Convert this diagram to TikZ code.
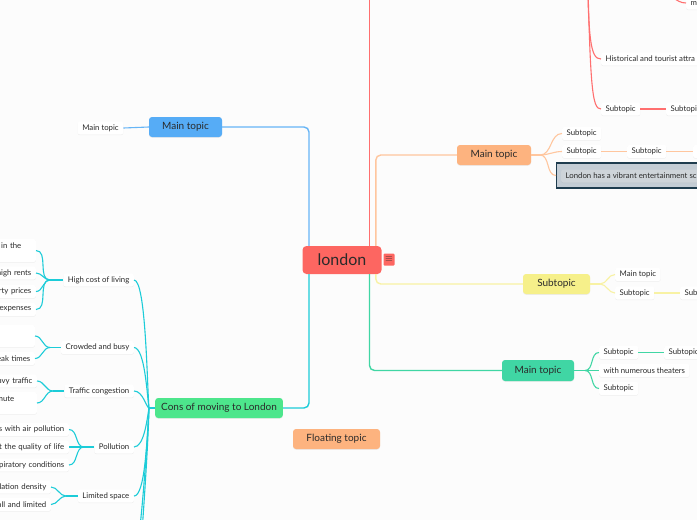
\documentclass[tikz,border=0pt]{standalone}
\usepackage{fontspec}
\setmainfont{Lato}
\usetikzlibrary{positioning, shadows}
\definecolor{bgcol}{HTML}{FCFCFC}
\definecolor{rootred}{HTML}{FD6661}
\definecolor{redline}{HTML}{FF6F6F}
\definecolor{orangefill}{HTML}{FDB37F}
\definecolor{orangeline}{HTML}{FFC69E}
\definecolor{yellowfill}{HTML}{F6F08A}
\definecolor{yellowline}{HTML}{F8F2A4}
\definecolor{greenfill}{HTML}{40D6A4}
\definecolor{greenline}{HTML}{40D6A4}
\definecolor{bluefill}{HTML}{56ACF6}
\definecolor{blueline}{HTML}{66B5F6}
\definecolor{consfill}{HTML}{4DE68C}
\definecolor{cyanline}{HTML}{1CCCD8}
\definecolor{selfill}{HTML}{C4CDD5}
\definecolor{seldraw}{HTML}{1E3C4E}
\definecolor{selinner}{HTML}{CED4D9}
\definecolor{inkcol}{HTML}{2A2A2A}
\tikzset{
  root/.style={rectangle, rounded corners=4pt, fill=rootred,
               minimum width=79pt, minimum height=28pt, text=inkcol,
               font=\fontsize{16}{18}\selectfont},
  topic/.style={rectangle, rounded corners=3pt, minimum height=20pt,
                inner xsep=6pt, text=inkcol, font=\fontsize{10}{12}\selectfont,
                drop shadow={opacity=0.12, shadow xshift=0pt, shadow yshift=-0.8pt}},
  leaf/.style={rectangle, rounded corners=2pt, fill=white,
               minimum height=13pt, inner xsep=4.5pt, inner ysep=2pt,
               text=inkcol, font=\fontsize{7.8}{9}\selectfont,
               drop shadow={opacity=0.12, shadow xshift=0pt, shadow yshift=-0.6pt}},
  rleaf/.style={leaf, anchor=west},
  lleaf/.style={leaf, anchor=east, text width=90pt, align=right},
  link/.style={line width=1.1pt},
  trunk/.style={line width=1.4pt, rounded corners=5pt},
}
\begin{document}
\begin{tikzpicture}[x=1pt, y=-1pt]
  \useasboundingbox (0,0) rectangle (697,520);
  \fill[bgcol] (0,0) rectangle (697,520);
  \clip (0,0) rectangle (697,520);

  % centre
  \node[root] (london) at (342,260) {london};
  \node[rectangle, fill=rootred, rounded corners=1pt, minimum width=11pt,
        minimum height=12pt, inner sep=0pt, text=inkcol,
        font=\fontsize{10}{10}\selectfont] (menu) at (389,259.5) {$\equiv$};

  \coordinate (jBl) at (309,0);
  \coordinate (jRd) at (369.5,0);
  \coordinate (jOr) at (375.8,0);
  \coordinate (redtop) at (369.5,-10);

  % main topics
  \node[topic, fill=bluefill, minimum width=73pt] (mainB) at (185.5,127) {Main topic};
  \node[topic, fill=consfill, minimum width=120pt] (cons) at (219,408) {Cons of moving to London};
  \node[topic, fill=orangefill, minimum width=74pt] (mainO) at (494,155) {Main topic};
  \node[topic, fill=yellowfill, minimum width=67pt] (subY) at (556.5,284) {Subtopic};
  \node[topic, fill=greenfill, minimum width=72pt, minimum height=21pt] (mainG) at (538,370.5) {Main topic};
  \node[topic, fill=orangefill, minimum width=87pt] (floatT) at (336.5,439) {Floating topic};

  \draw[trunk, redline] (london.north -| jRd) -- (redtop);
  \draw[trunk, orangeline] (london.north -| jOr) |- (mainO.west);
  \draw[trunk, yellowline] (london.south -| jOr) |- (subY.west);
  \draw[trunk, greenline] (london.south -| jRd) |- (mainG.west);
  \draw[trunk, blueline] (london.north -| jBl) |- (mainB.east);
  \draw[trunk, cyanline] (london.south -| jBl) |- (cons.east);

  % blue branch
  \node[leaf] (leafB) at (100.5,128) {Main topic};
  \draw[link, blueline] (mainB.west) -- (leafB.east);

  % red branch (hub above the page)
  \coordinate (hubR) at (587,-60);
  \node[leaf, anchor=south west, minimum width=60pt] (topR) at (600,-1) {};
  \node[rleaf] (mR) at (686,3) {m};
  \node[rleaf] (histR) at (601,59) {Historical and tourist attra};
  \node[rleaf] (subR) at (601,109) {Subtopic};
  \node[rleaf] (subR2) at (666,109) {Subtopi};
  \draw[link, redline] (hubR) .. controls (588,40) and (590,59) .. (histR.west);
  \draw[link, redline] (hubR) .. controls (590,90) and (592,109) .. (subR.west);
  \draw[link, redline] (topR.east) to[out=0, in=180] (mR.west);
  \draw[link, redline] (subR.east) -- (subR2.west);

  % orange branch
  \node[draw=seldraw, line width=1.2pt, rectangle, anchor=west,
        minimum width=170pt, minimum height=25pt, fill=selfill] (entSel) at (556,175.5) {};
  \node[rleaf, fill=selinner, drop shadow={opacity=0}] (entO) at (561,176) {London has a vibrant entertainment sc};
  \node[rleaf] (subO1) at (562,133.5) {Subtopic};
  \node[rleaf] (subO2) at (562,151.5) {Subtopic};
  \node[rleaf] (subO3) at (627,151.5) {Subtopic};
  \node[rleaf, minimum width=20pt] (subO4) at (693,151.5) {};
  \coordinate (hubO) at (540,155);
  \draw[link, orangeline] (mainO.east) -- (hubO);
  \foreach \t in {subO1, subO2, entSel}
    \draw[link, orangeline] (hubO) to[out=0, in=180] (\t.west);
  \draw[link, orangeline] (subO2.east) -- (subO3.west);
  \draw[link, orangeline] (subO3.east) -- (subO4.west);

  % yellow branch
  \node[rleaf] (mainY1) at (615,274.5) {Main topic};
  \node[rleaf] (subY1) at (615,293) {Subtopic};
  \node[rleaf] (subY2) at (680,293) {Sub};
  \coordinate (hubY) at (600,284);
  \draw[link, yellowline] (subY.east) -- (hubY);
  \foreach \t in {mainY1, subY1}
    \draw[link, yellowline] (hubY) to[out=0, in=180] (\t.west);
  \draw[link, yellowline] (subY1.east) -- (subY2.west);

  % green branch
  \node[rleaf] (subG1) at (599,352.5) {Subtopic};
  \node[rleaf] (theaG) at (599,370.5) {with numerous theaters};
  \node[rleaf] (subG2) at (599,388.5) {Subtopic};
  \node[rleaf] (subG3) at (664,352.5) {Subtopic};
  \coordinate (hubG) at (585,370.5);
  \draw[link, greenline] (mainG.east) -- (hubG);
  \foreach \t in {subG1, theaG, subG2}
    \draw[link, greenline] (hubG) to[out=0, in=180] (\t.west);
  \draw[link, greenline] (subG1.east) -- (subG3.west);

  % cons branch
  \node[leaf, anchor=east] (costC) at (134,280) {High cost of living};
  \node[leaf, anchor=east] (crowdC) at (134,347.5) {Crowded and busy};
  \node[leaf, anchor=east] (trafC) at (134,391) {Traffic congestion};
  \node[leaf, anchor=east] (pollC) at (134,447) {Pollution};
  \node[leaf, anchor=east] (spaceC) at (134,496) {Limited space};
  \coordinate (offC1) at (134,560);
  \coordinate (offC2) at (134,620);
  \coordinate (hubC) at (149,408);
  \draw[link, cyanline] (cons.west) -- (hubC);
  \draw[link, cyanline] (costC.east) .. controls (146,280) and (147,385) .. (hubC);
  \draw[link, cyanline] (crowdC.east) .. controls (145,348) and (147,395) .. (hubC);
  \draw[link, cyanline] (trafC.east) .. controls (143,391) and (146,407) .. (hubC);
  \draw[link, cyanline] (pollC.east) .. controls (144,447) and (147,420) .. (hubC);
  \draw[link, cyanline] (spaceC.east) .. controls (145,496) and (147,440) .. (hubC);
  \draw[link, cyanline] (offC1) .. controls (139,560) and (147,450) .. (hubC);
  \draw[link, cyanline] (offC2) .. controls (136,620) and (148,460) .. (hubC);

  % leaves on the left edge
  \node[lleaf, minimum height=23pt] (costA) at (36,250.5) {in the\kern10pt\\\mbox{}};
  \node[lleaf] (costB) at (36,273) {high rents};
  \node[lleaf] (costD) at (36,291.5) {rty prices};
  \node[lleaf] (costE) at (36,309.5) {expenses};
  \node[lleaf, minimum height=22pt] (crowdA) at (35,336) {\mbox{}\\\mbox{}};
  \node[lleaf] (crowdB) at (35,358.5) {eak times};
  \node[lleaf] (trafA) at (37,381) {avy traffic};
  \node[lleaf, minimum height=22pt] (trafB) at (37,403) {mute\kern18pt\\\mbox{}};
  \node[lleaf] (pollA) at (69,429.5) {s with air pollution};
  \node[lleaf] (pollB) at (69,447) {t the quality of life};
  \node[lleaf] (pollD) at (69,465) {piratory conditions};
  \node[lleaf] (spaceA) at (51,487) {lation density};
  \node[lleaf] (spaceB) at (51,504.5) {all and limited};

  \coordinate (hubCost) at (50,280);
  \coordinate (hubCrowd) at (50,347.5);
  \coordinate (hubTraf) at (53,391);
  \coordinate (hubPoll) at (84,447);
  \coordinate (hubSpace) at (66,496);
  \draw[link, cyanline] (costC.west) -- (hubCost);
  \draw[link, cyanline] (crowdC.west) -- (hubCrowd);
  \draw[link, cyanline] (trafC.west) -- (hubTraf);
  \draw[link, cyanline] (pollC.west) -- (hubPoll);
  \draw[link, cyanline] (spaceC.west) -- (hubSpace);
  \foreach \t in {costA, costB, costD, costE}
    \draw[link, cyanline] (hubCost) to[out=180, in=0] (\t.east);
  \foreach \t in {crowdA, crowdB}
    \draw[link, cyanline] (hubCrowd) to[out=180, in=0] (\t.east);
  \foreach \t in {trafA, trafB}
    \draw[link, cyanline] (hubTraf) to[out=180, in=0] (\t.east);
  \foreach \t in {pollA, pollB, pollD}
    \draw[link, cyanline] (hubPoll) to[out=180, in=0] (\t.east);
  \foreach \t in {spaceA, spaceB}
    \draw[link, cyanline] (hubSpace) to[out=180, in=0] (\t.east);
\end{tikzpicture}
\end{document}
